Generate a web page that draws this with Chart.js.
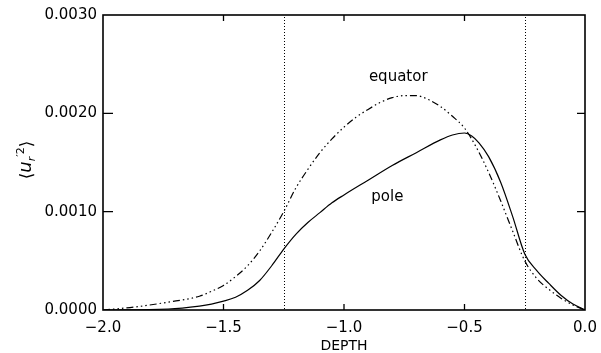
<!DOCTYPE html>
<html>
<head>
<meta charset="utf-8">
<script src="https://cdn.jsdelivr.net/npm/chart.js@4/dist/chart.umd.min.js"></script>
<style>
  html, body { margin: 0; padding: 0; background: #fff; }
  #wrap { width: 601px; height: 353px; position: relative; }
</style>
</head>
<body>
<div id="wrap"><canvas id="chart"></canvas></div>
<script>
// ── Datos ─────────────────────────────────────────────────────────────
const eqDepth = [-2.0, -1.87, -1.73, -1.6, -1.55, -1.5, -1.45, -1.40, -1.35, -1.30,
                 -1.25, -1.2, -1.15, -1.1, -1.05, -1.0, -0.95, -0.9, -0.85, -0.8,
                 -0.75, -0.7, -0.65, -0.6, -0.55, -0.5, -0.45, -0.4, -0.35, -0.30,
                 -0.25, -0.2, -0.15, -0.1, -0.05, 0.0];
const eqVals  = [0, 0.00003, 0.00008, 0.00014, 0.00019, 0.00025, 0.00034, 0.00045, 0.00060, 0.00079,
                 0.00100, 0.00124, 0.00143, 0.00160, 0.00174, 0.00186, 0.00196, 0.00204, 0.00211, 0.00216,
                 0.00218, 0.00218, 0.00214, 0.00207, 0.00197, 0.00185, 0.00165, 0.00140, 0.00111, 0.00080,
                 0.00050, 0.00032, 0.00021, 0.00012, 0.00005, 0];

const poleDepth = [-2.0, -1.73, -1.6, -1.55, -1.5, -1.45, -1.40, -1.35, -1.30, -1.25,
                   -1.2, -1.15, -1.1, -1.05, -1.0, -0.9, -0.8, -0.7, -0.6, -0.55,
                   -0.5, -0.47, -0.44, -0.4, -0.35, -0.3, -0.25, -0.2, -0.15, -0.1,
                   -0.05, 0.0];
const poleVals  = [0, 0.00001, 0.00004, 0.00006, 0.00009, 0.00013, 0.00020, 0.00030, 0.00045, 0.00062,
                   0.00077, 0.00089, 0.00099, 0.00109, 0.00117, 0.00132, 0.00147, 0.00160, 0.00173, 0.00178,
                   0.00180, 0.00177, 0.00170, 0.00156, 0.00130, 0.00095, 0.00057, 0.00040, 0.00027, 0.00015,
                   0.00006, 0];

const xTicks = [-2.0, -1.5, -1.0, -0.5, 0.0];
const yTicks = [0.0000, 0.0010, 0.0020, 0.0030];
const markerDepths = [-1.25, -0.25];   // líneas punteadas verticales
const curveLabels = [
  { text: "equator", x: -0.775, y: 0.00237 },
  { text: "pole",    x: -0.82,  y: 0.00115 },
];

const FONT = "'DejaVu Sans', sans-serif";
const toPts = (xs, ys) => xs.map((x, i) => ({ x, y: ys[i] }));

// ── Marco IDL: caja completa con ticks hacia adentro ──────────────────
const idlFrame = {
  id: "idlFrame",
  beforeDatasetsDraw(chart) {
    const { ctx, chartArea: a, scales } = chart;
    ctx.save();
    ctx.strokeStyle = "#000";
    ctx.lineWidth = 1;
    ctx.setLineDash([1, 2]);
    markerDepths.forEach(d => {
      const px = Math.round(scales.x.getPixelForValue(d)) + 0.5;
      ctx.beginPath(); ctx.moveTo(px, a.top + 2); ctx.lineTo(px, a.bottom); ctx.stroke();
    });
    ctx.restore();
  },
  afterDraw(chart) {
    const { ctx, chartArea: a, scales } = chart;
    ctx.save();
    ctx.strokeStyle = "#000";
    ctx.lineWidth = 1.6;
    ctx.strokeRect(a.left, a.top, a.right - a.left, a.bottom - a.top);
    ctx.lineWidth = 1.3;
    ctx.beginPath();
    xTicks.slice(1, -1).forEach(v => {
      const px = scales.x.getPixelForValue(v);
      ctx.moveTo(px, a.bottom); ctx.lineTo(px, a.bottom - 6);
      ctx.moveTo(px, a.top);    ctx.lineTo(px, a.top + 6);
    });
    yTicks.slice(1, -1).forEach(v => {
      const py = scales.y.getPixelForValue(v);
      ctx.moveTo(a.left, py);  ctx.lineTo(a.left + 10, py);
      ctx.moveTo(a.right, py); ctx.lineTo(a.right - 8, py);
    });
    ctx.stroke();

    // etiquetas de curvas
    ctx.fillStyle = "#000";
    ctx.font = "15px " + FONT;
    ctx.textAlign = "center";
    ctx.textBaseline = "middle";
    curveLabels.forEach(l => {
      ctx.fillText(l.text, scales.x.getPixelForValue(l.x), scales.y.getPixelForValue(l.y));
    });

    // título eje Y: ⟨u_r'^2⟩ rotado
    ctx.translate(26, 160);
    ctx.rotate(-Math.PI / 2);
    ctx.textAlign = "left";
    ctx.textBaseline = "alphabetic";
    const parts = [
      { t: "⟨",  f: "17px " + FONT,            dy: 6 },
      { t: "u",  f: "italic 18px " + FONT,     dy: 5 },
      { t: "r",  f: "italic 11px " + FONT,     dy: 9 },
      { t: "′2", f: "11px " + FONT,            dy: -2 },
      { t: "⟩",  f: "17px " + FONT,            dy: 6 },
    ];
    let w = 0;
    parts.forEach(p => { ctx.font = p.f; w += ctx.measureText(p.t).width; });
    let cx = -w / 2;
    parts.forEach(p => {
      ctx.font = p.f;
      ctx.fillText(p.t, cx, p.dy);
      cx += ctx.measureText(p.t).width;
    });
    ctx.restore();
  },
};

// ── Gráfico ───────────────────────────────────────────────────────────
new Chart(document.getElementById("chart"), {
  type: "line",
  data: {
    datasets: [
      { label: "equator", data: toPts(eqDepth, eqVals), borderColor: "#000",
        borderWidth: 1.2, borderDash: [7, 3, 1.5, 3, 1.5, 3, 1.5, 3],
        pointRadius: 0, cubicInterpolationMode: "monotone", fill: false },
      { label: "pole", data: toPts(poleDepth, poleVals), borderColor: "#000",
        borderWidth: 1.2, pointRadius: 0, cubicInterpolationMode: "monotone", fill: false },
    ],
  },
  options: {
    responsive: true, maintainAspectRatio: false, animation: false,
    layout: { padding: { left: 0, right: 16, top: 15, bottom: 0 } },
    plugins: { legend: { display: false }, tooltip: { enabled: false } },
    scales: {
      x: {
        type: "linear", min: -2, max: 0,
        grid: { display: false, drawTicks: false }, border: { display: false },
        // el marco manda: sin relleno extra por las etiquetas extremas
        afterFit: s => { s.height = 43; s.paddingLeft = 0; s.paddingRight = 0; },
        afterBuildTicks: s => { s.ticks = xTicks.map(v => ({ value: v })); },
        ticks: { padding: 9, color: "#000", font: { family: FONT, size: 15 },
                 maxRotation: 0, autoSkip: false,
                 callback: v => (v < 0 ? "−" : "") + Math.abs(v).toFixed(1) },
        title: { display: true, text: "DEPTH", color: "#000",
                 font: { family: FONT, size: 14, lineHeight: 1.0 }, padding: 0 },
      },
      y: {
        type: "linear", min: 0, max: 0.003,
        grid: { display: false, drawTicks: false }, border: { display: false },
        afterFit: s => { s.width = 103; s.paddingTop = 0; s.paddingBottom = 0; },
        afterBuildTicks: s => { s.ticks = yTicks.map(v => ({ value: v })); },
        ticks: { padding: 6, color: "#000", font: { family: FONT, size: 15 },
                 callback: v => v.toFixed(4) },
      },
    },
  },
  plugins: [idlFrame],
});
</script>
</body>
</html>
